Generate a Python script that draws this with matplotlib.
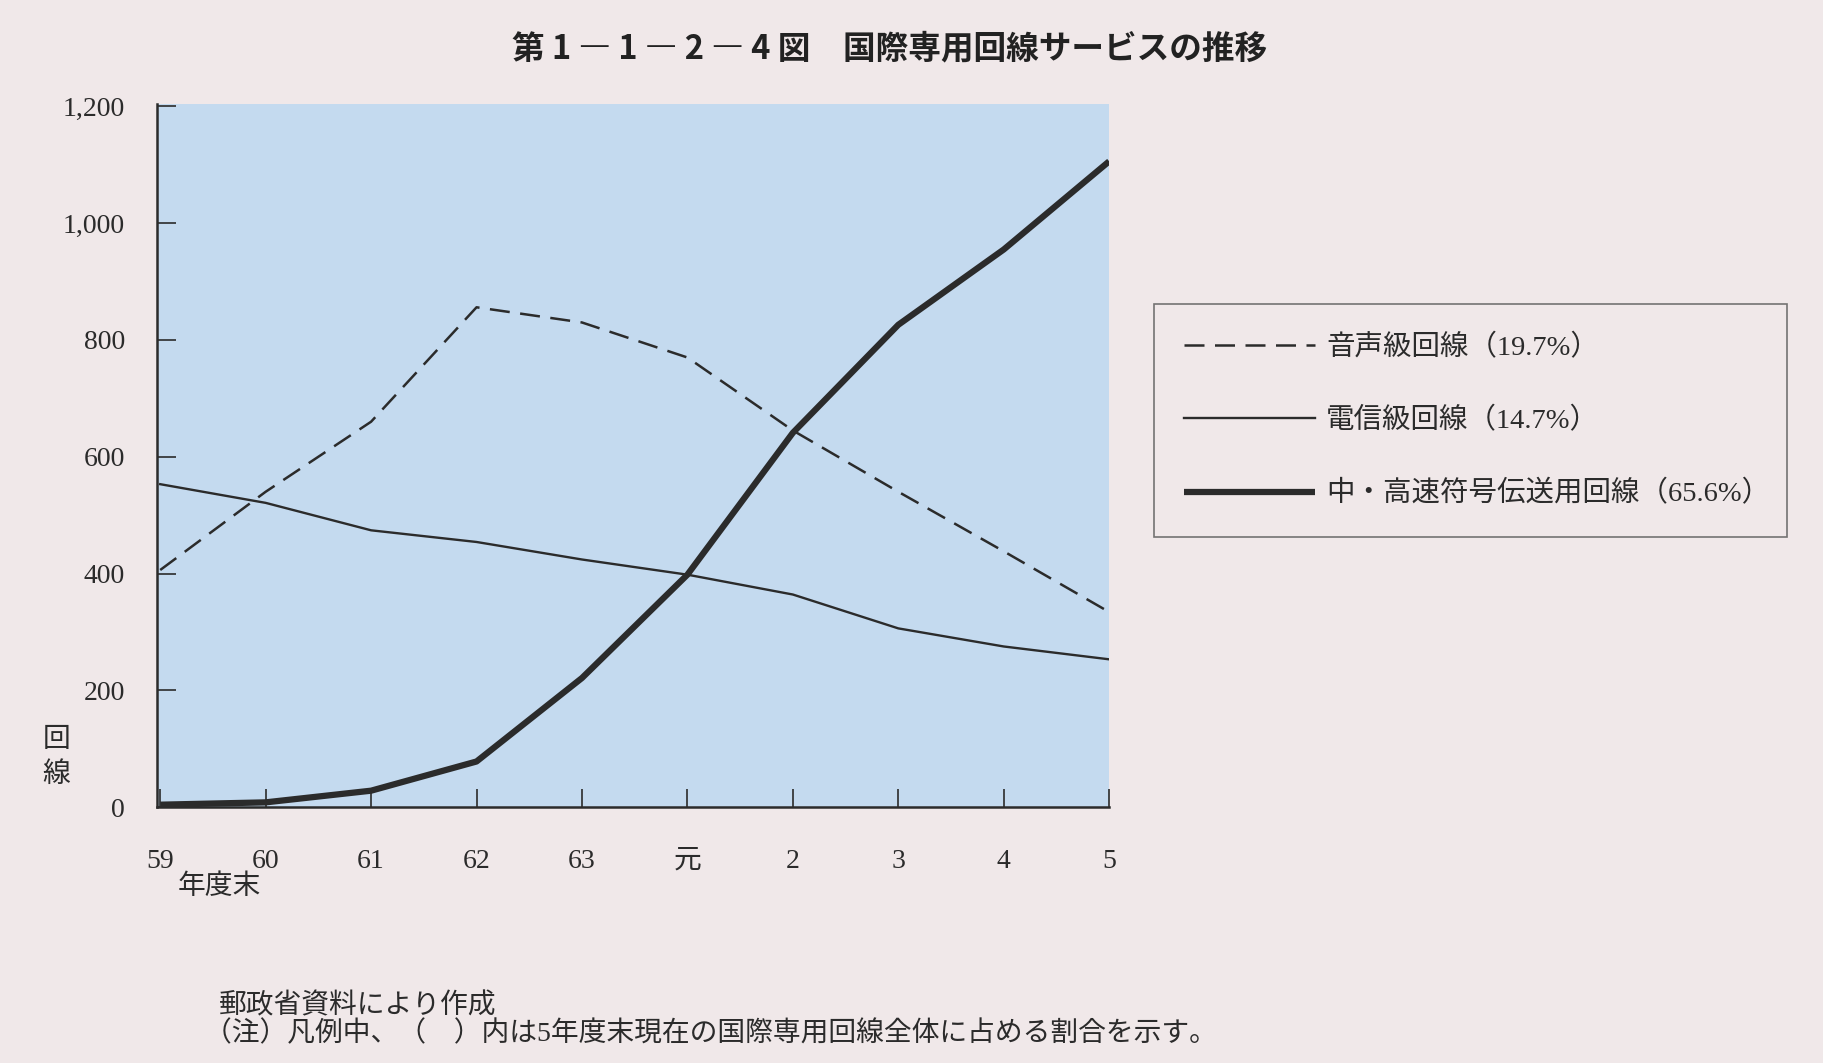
"""国際専用回線サービスの推移"""

import matplotlib.pyplot as plt

plt.rcParams["font.family"] = ["Liberation Serif", "Noto Sans CJK JP", "DejaVu Sans"]

# 年度末
years = ["59", "60", "61", "62", "63", "元", "2", "3", "4", "5"]
# 回線数
voice = [406, 540, 660, 856, 830, 770, 645, 540, 438, 334]  # 音声級回線
telegraph = [553, 521, 474, 454, 424, 398, 364, 306, 275, 253]  # 電信級回線
highspeed = [4, 8, 28, 78, 221, 398, 641, 826, 955, 1106]  # 中・高速符号伝送用回線

labels = ["音声級回線（19.7%）", "電信級回線（14.7%）", "中・高速符号伝送用回線（65.6%）"]

bg = "#f0e8e9"
ink = "#2b2b2b"

fig = plt.figure(figsize=(18.24, 10.63), dpi=100, facecolor=bg)
ax = fig.add_axes([0.0861, 0.2408, 0.522, 0.6618])
ax.set_facecolor("#c4daef")

x = range(len(years))
ax.plot(x, voice, color=ink, lw=1.8, dashes=(8, 4.2), label=labels[0])
ax.plot(x, telegraph, color=ink, lw=1.7, label=labels[1])
ax.plot(x, highspeed, color=ink, lw=4.5, label=labels[2], solid_capstyle="butt")

ax.set_xlim(-0.03, 9.0)
ax.set_ylim(0, 1205)
ax.set_yticks(range(0, 1201, 200))
ax.set_yticklabels([f"{v:,}" for v in range(0, 1201, 200)])
ax.set_xticks(list(x))
ax.set_xticklabels(years)

for s in ["top", "right"]:
    ax.spines[s].set_visible(False)
for s in ["left", "bottom"]:
    ax.spines[s].set_color(ink)
    ax.spines[s].set_linewidth(1.8)

ax.tick_params(axis="y", direction="in", length=14, width=1.2, color=ink,
               pad=23, labelsize=20, labelcolor=ink)
ax.tick_params(axis="x", direction="in", length=13, width=1.2, color=ink,
               pad=30, labelsize=20, labelcolor=ink)

# タイトル
fig.text(0.4875, 0.954, "第 1 ― 1 ― 2 ― 4 図　国際専用回線サービスの推移",
         ha="center", va="center", fontsize=23.5, fontweight="bold",
         family=["Noto Sans CJK JP"], color="#222222")

# 軸ラベル
fig.text(0.031, 0.287, "回\n線", ha="center", va="center", fontsize=20,
         color=ink, linespacing=1.45)
fig.text(0.12, 0.165, "年度末", ha="center", va="center", fontsize=20, color=ink)

# 凡例
leg = fig.legend(loc="upper left", bbox_to_anchor=(0.6327, 0.514, 0.347, 0.2),
                 mode="expand", fontsize=20.5, handlelength=4.6, handletextpad=0.4,
                 labelspacing=1.62, borderpad=1.05, borderaxespad=0,
                 fancybox=False, frameon=True, labelcolor=ink)
leg.get_frame().set_edgecolor("#555555")
leg.get_frame().set_linewidth(1.2)
leg.get_frame().set_facecolor(bg)

# 出典・注
fig.text(0.12, 0.053, "郵政省資料により作成", ha="left", va="center", fontsize=20, color=ink)
fig.text(0.112, 0.027, "（注）凡例中、（　）内は5年度末現在の国際専用回線全体に占める割合を示す。",
         ha="left", va="center", fontsize=20, color=ink)

plt.savefig("out.png", dpi=100, facecolor=bg)
